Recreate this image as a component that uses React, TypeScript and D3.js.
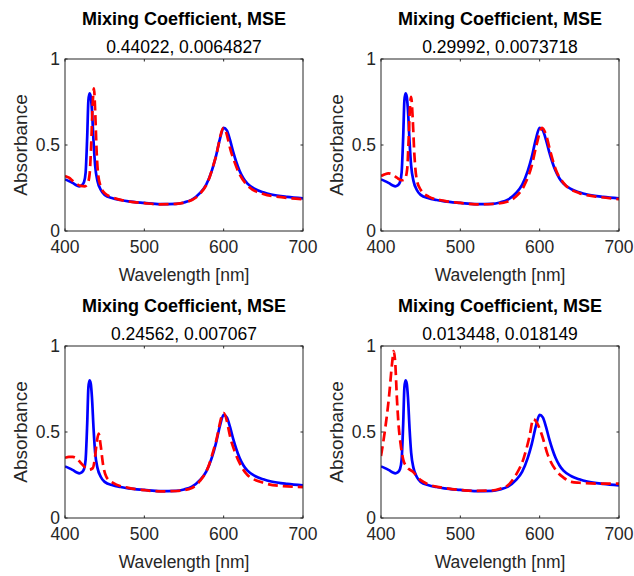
import * as d3 from 'd3';
import React, { useRef, useEffect } from 'react';

// reference spectrum (blue, same in every panel)
const refWl = [400, 405, 410, 415, 418, 421, 424, 426, 428, 429.5, 431, 432.5, 434, 436, 438, 441, 445, 450, 460, 470, 480, 500, 520, 540, 550, 560, 570, 578, 585, 590, 595, 600, 604, 608, 612, 616, 620, 625, 630, 640, 650, 660, 680, 700];
const refAbs = [0.300, 0.290, 0.278, 0.265, 0.260, 0.265, 0.285, 0.34, 0.55, 0.76, 0.80, 0.78, 0.70, 0.52, 0.38, 0.29, 0.24, 0.21, 0.19, 0.18, 0.172, 0.163, 0.156, 0.158, 0.166, 0.182, 0.22, 0.27, 0.35, 0.43, 0.53, 0.60, 0.585, 0.53, 0.46, 0.40, 0.35, 0.305, 0.275, 0.243, 0.225, 0.212, 0.198, 0.19];

// fitted spectra (red dashed), one per panel
const fit1Wl = [400, 405, 410, 415, 420, 425, 428, 431, 433, 435, 436.5, 438, 440, 442, 445, 450, 460, 480, 500, 520, 540, 560, 570, 580, 590, 600, 610, 620, 630, 650, 675, 700];
const fit1Abs = [0.32, 0.31, 0.29, 0.272, 0.262, 0.26, 0.27, 0.33, 0.50, 0.75, 0.83, 0.70, 0.45, 0.32, 0.26, 0.22, 0.195, 0.172, 0.162, 0.155, 0.158, 0.18, 0.215, 0.285, 0.43, 0.60, 0.45, 0.33, 0.265, 0.215, 0.195, 0.185];

const fit2Wl = [400, 405, 409, 414, 420, 426, 430, 433, 435, 436.5, 438, 440, 442, 445, 450, 460, 480, 500, 520, 540, 560, 570, 580, 590, 596, 603, 608, 613, 620, 630, 650, 675, 700];
const fit2Abs = [0.32, 0.33, 0.335, 0.33, 0.31, 0.295, 0.30, 0.36, 0.55, 0.72, 0.78, 0.65, 0.45, 0.30, 0.24, 0.20, 0.175, 0.163, 0.155, 0.157, 0.172, 0.2, 0.26, 0.38, 0.50, 0.60, 0.56, 0.47, 0.36, 0.28, 0.22, 0.198, 0.185];

const fit3Wl = [400, 405, 410, 415, 420, 425, 430, 435, 438, 440, 442.5, 445, 448, 452, 460, 480, 500, 520, 540, 560, 570, 580, 590, 600, 610, 620, 630, 650, 675, 700];
const fit3Abs = [0.35, 0.355, 0.355, 0.345, 0.32, 0.295, 0.28, 0.29, 0.36, 0.44, 0.49, 0.42, 0.31, 0.24, 0.205, 0.175, 0.162, 0.155, 0.157, 0.175, 0.215, 0.29, 0.44, 0.61, 0.44, 0.32, 0.25, 0.205, 0.185, 0.18];

const fit4Wl = [400, 405, 410, 414, 416, 418, 420, 422, 425, 428, 432, 440, 450, 460, 480, 500, 520, 540, 550, 560, 570, 580, 587, 592, 597, 603, 610, 620, 630, 640, 650, 675, 700];
const fit4Abs = [0.36, 0.51, 0.70, 0.90, 0.97, 0.90, 0.70, 0.55, 0.42, 0.34, 0.30, 0.27, 0.22, 0.195, 0.175, 0.163, 0.158, 0.16, 0.17, 0.19, 0.25, 0.35, 0.47, 0.575, 0.55, 0.48, 0.37, 0.28, 0.235, 0.21, 0.205, 0.2, 0.2];

const mixing = ['0.44022', '0.29992', '0.24562', '0.013448'];
const mse = ['0.0064827', '0.0073718', '0.007067', '0.018149'];
const fitWl = [fit1Wl, fit2Wl, fit3Wl, fit4Wl];
const fitAbs = [fit1Abs, fit2Abs, fit3Abs, fit4Abs];

const xTicks = [400, 500, 600, 700];
const yTicks = [0, 0.5, 1];
const yTickLabels = ['0', '0.5', '1'];

const W = 634, H = 576;
const FONT = '"Liberation Sans", Arial, Helvetica, sans-serif';
const INK = '#262626';

function App() {
  const ref = useRef(null);

  useEffect(() => {
    const svg = d3.select(ref.current);
    svg.selectAll('*').remove();

    const lefts = [65, 381];
    const tops = [59, 346];
    const pw = 238, ph = 172;

    mixing.forEach((mc, i) => {
      const left = lefts[i % 2];
      const top = tops[Math.floor(i / 2)];
      const x = d3.scaleLinear().domain([400, 700]).range([left, left + pw]);
      const y = d3.scaleLinear().domain([0, 1]).range([top + ph, top]);

      const g = svg.append('g');
      const clipId = 'clip' + i;
      g.append('clipPath').attr('id', clipId)
        .append('rect').attr('x', left).attr('y', top).attr('width', pw).attr('height', ph);

      const line = d3.line().x(d => x(d[0])).y(d => y(d[1])).curve(d3.curveMonotoneX);

      const refPts = refWl.map((w, k) => [w, refAbs[k]]);
      const fitPts = fitWl[i].map((w, k) => [w, fitAbs[i][k]]);

      const lines = g.append('g').attr('clip-path', `url(#${clipId})`);
      lines.append('path').attr('d', line(refPts)).attr('fill', 'none')
        .attr('stroke', '#0000ff').attr('stroke-width', 2.7).attr('stroke-linejoin', 'round');
      lines.append('path').attr('d', line(fitPts)).attr('fill', 'none')
        .attr('stroke', '#ff0000').attr('stroke-width', 2.7).attr('stroke-dasharray', '10,5');

      // box + ticks (inward, mirrored)
      g.append('rect').attr('x', left).attr('y', top).attr('width', pw).attr('height', ph)
        .attr('fill', 'none').attr('stroke', INK).attr('stroke-width', 1);
      const tl = 2.5;
      xTicks.forEach(t => {
        g.append('line').attr('x1', x(t)).attr('x2', x(t)).attr('y1', top + ph).attr('y2', top + ph - tl).attr('stroke', INK);
        g.append('line').attr('x1', x(t)).attr('x2', x(t)).attr('y1', top).attr('y2', top + tl).attr('stroke', INK);
        g.append('text').attr('x', x(t)).attr('y', top + ph + 22).attr('text-anchor', 'middle')
          .attr('font-family', FONT).attr('font-size', 17.5).attr('fill', INK).text(t);
      });
      yTicks.forEach((t, k) => {
        g.append('line').attr('x1', left).attr('x2', left + tl).attr('y1', y(t)).attr('y2', y(t)).attr('stroke', INK);
        g.append('line').attr('x1', left + pw).attr('x2', left + pw - tl).attr('y1', y(t)).attr('y2', y(t)).attr('stroke', INK);
        g.append('text').attr('x', left - 5).attr('y', y(t)).attr('dy', '0.35em').attr('text-anchor', 'end')
          .attr('font-family', FONT).attr('font-size', 17.5).attr('fill', INK).text(yTickLabels[k]);
      });

      const cx = left + pw / 2;
      g.append('text').attr('x', cx).attr('y', top + ph + 50).attr('text-anchor', 'middle')
        .attr('font-family', FONT).attr('font-size', 17.5).attr('fill', INK).text('Wavelength [nm]');
      g.append('text').attr('transform', `translate(${left - 38},${top + ph / 2}) rotate(-90)`)
        .attr('text-anchor', 'middle')
        .attr('font-family', FONT).attr('font-size', 19).attr('fill', INK).text('Absorbance');
      g.append('text').attr('x', cx).attr('y', top - 34).attr('text-anchor', 'middle')
        .attr('font-family', FONT).attr('font-size', 18).attr('font-weight', 'bold').attr('fill', '#000')
        .text('Mixing Coefficient, MSE');
      g.append('text').attr('x', cx).attr('y', top - 6).attr('text-anchor', 'middle')
        .attr('font-family', FONT).attr('font-size', 17.5).attr('fill', '#000')
        .text(`${mc}, ${mse[i]}`);
    });
  }, []);

  return (
    <div style={{ position: 'absolute', left: 0, top: 0 }}>
      <svg ref={ref} width={W} height={H} style={{ display: 'block', background: '#fff' }}></svg>
    </div>
  );
}

export default App;
